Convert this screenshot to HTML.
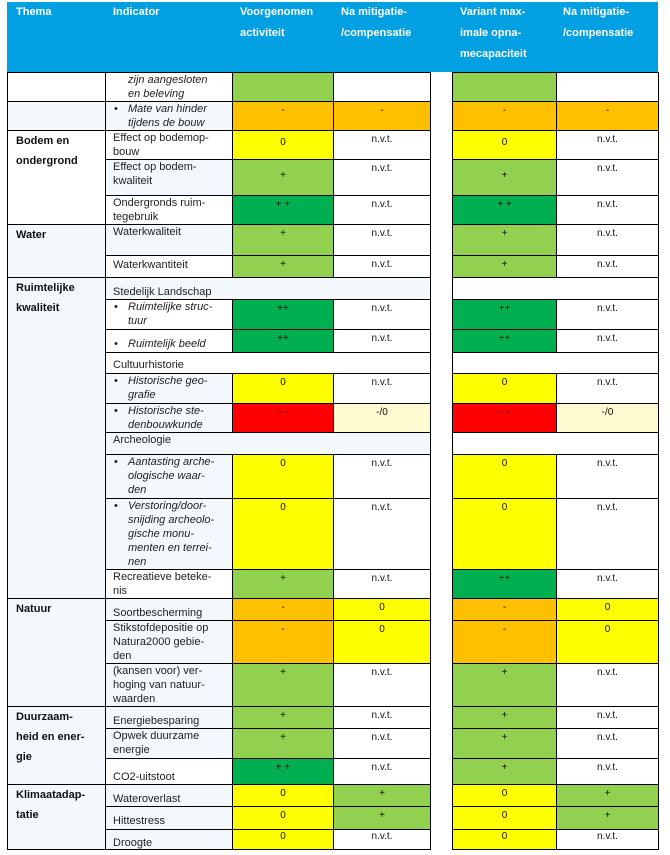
<!DOCTYPE html>
<html><head><meta charset="utf-8"><style>
body{margin:0;width:670px;height:855px;background:#fff;position:relative;overflow:hidden;font-family:"Liberation Sans",Arial,sans-serif}
.h{position:absolute;left:7px;top:2px;width:651px;height:70px;background:#00a0e3}
.ht{position:absolute;color:#fff;font-weight:bold;font-size:11px;line-height:21px;top:2px}
.c{position:absolute;box-sizing:border-box;border:1px solid #000;overflow:hidden;font-size:10px;color:#111}
.v{text-align:center;padding-top:3px}
.i{font-size:11px;line-height:14px;padding-left:7px;color:#222}
.it{font-style:italic;padding-left:22px}
.it:before{content:"•";position:absolute;left:8px;font-style:normal}
.nb:before{content:""}
.t{font-weight:bold;font-size:11px;line-height:20px;padding-left:8px;padding-top:0;color:#111}
.lb{background:#f2f8fc}
.g{background:#92d050}.dg{background:#00b050}.y{background:#ffff00}.o{background:#ffc000}.r{background:#ff0000}.cr{background:#fffad0}
</style></head><body>
<div class="h"></div>
<div class="ht" style="left:16px">Thema</div>
<div class="ht" style="left:113px">Indicator</div>
<div class="ht" style="left:240px">Voorgenomen<br>activiteit</div>
<div class="ht" style="left:341px">Na mitigatie-<br>/compensatie</div>
<div class="ht" style="left:460px">Variant max-<br>imale opna-<br>mecapaciteit</div>
<div class="ht" style="left:563px">Na mitigatie-<br>/compensatie</div>

<!-- Thema column -->
<div class="c t" style="left:7px;top:72px;width:99px;height:30px"></div>
<div class="c t lb" style="left:7px;top:101px;width:99px;height:30px"></div>
<div class="c t" style="left:7px;top:130px;width:99px;height:95px">Bodem en<br>ondergrond</div>
<div class="c t lb" style="left:7px;top:224px;width:99px;height:54px">Water</div>
<div class="c t lb" style="left:7px;top:277px;width:99px;height:322px">Ruimtelijke<br>kwaliteit</div>
<div class="c t lb" style="left:7px;top:598px;width:99px;height:109px">Natuur</div>
<div class="c t lb" style="left:7px;top:706px;width:99px;height:79px">Duurzaam-<br>heid en ener-<br>gie</div>
<div class="c t lb" style="left:7px;top:784px;width:99px;height:66px">Klimaatadap-<br>tatie</div>

<!-- R1 72-101 -->
<div class="c i it nb" style="left:105px;top:72px;width:128px;height:30px">zijn aangesloten<br>en beleving</div>
<div class="c v g" style="left:232px;top:72px;width:102px;height:30px"></div>
<div class="c v" style="left:333px;top:72px;width:98px;height:30px"></div>
<div class="c v g" style="left:452px;top:72px;width:105px;height:30px"></div>
<div class="c v" style="left:556px;top:72px;width:103px;height:30px"></div>
<!-- R2 101-130 -->
<div class="c i it lb" style="left:105px;top:101px;width:128px;height:30px">Mate van hinder<br>tijdens de bouw</div>
<div class="c v o" style="left:232px;top:101px;width:102px;height:30px">-</div>
<div class="c v o" style="left:333px;top:101px;width:98px;height:30px">-</div>
<div class="c v o" style="left:452px;top:101px;width:105px;height:30px">-</div>
<div class="c v o" style="left:556px;top:101px;width:103px;height:30px">-</div>
<!-- R3 130-159 -->
<div class="c i" style="left:105px;top:130px;width:128px;height:30px">Effect op bodemop-<br>bouw</div>
<div class="c v y" style="left:232px;top:130px;width:102px;height:30px;padding-top:6px">0</div>
<div class="c v" style="left:333px;top:130px;width:98px;height:30px">n.v.t.</div>
<div class="c v y" style="left:452px;top:130px;width:105px;height:30px;padding-top:6px">0</div>
<div class="c v" style="left:556px;top:130px;width:103px;height:30px">n.v.t.</div>
<!-- R4 159-195 -->
<div class="c i lb" style="left:105px;top:159px;width:128px;height:37px">Effect op bodem-<br>kwaliteit</div>
<div class="c v g" style="left:232px;top:159px;width:102px;height:37px;padding-top:10px">+</div>
<div class="c v" style="left:333px;top:159px;width:98px;height:37px">n.v.t.</div>
<div class="c v g" style="left:452px;top:159px;width:105px;height:37px;padding-top:10px">+</div>
<div class="c v" style="left:556px;top:159px;width:103px;height:37px">n.v.t.</div>
<!-- R5 195-224 -->
<div class="c i" style="left:105px;top:195px;width:128px;height:30px">Ondergronds ruim-<br>tegebruik</div>
<div class="c v dg" style="left:232px;top:195px;width:102px;height:30px">+ +</div>
<div class="c v" style="left:333px;top:195px;width:98px;height:30px">n.v.t.</div>
<div class="c v dg" style="left:452px;top:195px;width:105px;height:30px">+ +</div>
<div class="c v" style="left:556px;top:195px;width:103px;height:30px">n.v.t.</div>
<!-- R6 224-255 -->
<div class="c i lb" style="left:105px;top:224px;width:128px;height:32px">Waterkwaliteit</div>
<div class="c v g" style="left:232px;top:224px;width:102px;height:32px">+</div>
<div class="c v" style="left:333px;top:224px;width:98px;height:32px">n.v.t.</div>
<div class="c v g" style="left:452px;top:224px;width:105px;height:32px">+</div>
<div class="c v" style="left:556px;top:224px;width:103px;height:32px">n.v.t.</div>
<!-- R7 255-277 -->
<div class="c i" style="left:105px;top:255px;width:128px;height:23px;padding-top:2px">Waterkwantiteit</div>
<div class="c v g" style="left:232px;top:255px;width:102px;height:23px">+</div>
<div class="c v" style="left:333px;top:255px;width:98px;height:23px">n.v.t.</div>
<div class="c v g" style="left:452px;top:255px;width:105px;height:23px">+</div>
<div class="c v" style="left:556px;top:255px;width:103px;height:23px">n.v.t.</div>
<!-- R8 277-299 -->
<div class="c i lb" style="left:105px;top:277px;width:326px;height:23px;padding-top:7px">Stedelijk Landschap</div>
<div class="c" style="left:452px;top:277px;width:207px;height:23px"></div>
<!-- R9 299-329 -->
<div class="c i it" style="left:105px;top:299px;width:128px;height:31px">Ruimtelijke struc-<br>tuur</div>
<div class="c v dg" style="left:232px;top:299px;width:102px;height:31px">++</div>
<div class="c v" style="left:333px;top:299px;width:98px;height:31px">n.v.t.</div>
<div class="c v dg" style="left:452px;top:299px;width:105px;height:31px">++</div>
<div class="c v" style="left:556px;top:299px;width:103px;height:31px">n.v.t.</div>
<!-- R10 329-352 -->
<div class="c i it" style="left:105px;top:329px;width:128px;height:24px;padding-top:7px">Ruimtelijk beeld</div>
<div class="c v dg" style="left:232px;top:329px;width:102px;height:24px">++</div>
<div class="c v" style="left:333px;top:329px;width:98px;height:24px">n.v.t.</div>
<div class="c v dg" style="left:452px;top:329px;width:105px;height:24px">++</div>
<div class="c v" style="left:556px;top:329px;width:103px;height:24px">n.v.t.</div>
<!-- R11 352-373 -->
<div class="c i" style="left:105px;top:352px;width:326px;height:22px;padding-top:5px">Cultuurhistorie</div>
<div class="c" style="left:452px;top:352px;width:207px;height:22px"></div>
<!-- R12 373-403 -->
<div class="c i it lb" style="left:105px;top:373px;width:128px;height:31px">Historische geo-<br>grafie</div>
<div class="c v y" style="left:232px;top:373px;width:102px;height:31px">0</div>
<div class="c v" style="left:333px;top:373px;width:98px;height:31px">n.v.t.</div>
<div class="c v y" style="left:452px;top:373px;width:105px;height:31px">0</div>
<div class="c v" style="left:556px;top:373px;width:103px;height:31px">n.v.t.</div>
<!-- R13 403-432 -->
<div class="c i it lb" style="left:105px;top:403px;width:128px;height:30px">Historische ste-<br>denbouwkunde</div>
<div class="c v r" style="left:232px;top:403px;width:102px;height:30px">- -</div>
<div class="c v cr" style="left:333px;top:403px;width:98px;height:30px">-/0</div>
<div class="c v r" style="left:452px;top:403px;width:105px;height:30px">- -</div>
<div class="c v cr" style="left:556px;top:403px;width:103px;height:30px">-/0</div>
<!-- R14 432-454 -->
<div class="c i lb" style="left:105px;top:432px;width:326px;height:23px">Archeologie</div>
<div class="c" style="left:452px;top:432px;width:207px;height:23px"></div>
<!-- R15 454-498 -->
<div class="c i it lb" style="left:105px;top:454px;width:128px;height:45px">Aantasting arche-<br>ologische waar-<br>den</div>
<div class="c v y" style="left:232px;top:454px;width:102px;height:45px">0</div>
<div class="c v" style="left:333px;top:454px;width:98px;height:45px">n.v.t.</div>
<div class="c v y" style="left:452px;top:454px;width:105px;height:45px">0</div>
<div class="c v" style="left:556px;top:454px;width:103px;height:45px">n.v.t.</div>
<!-- R16 498-569 -->
<div class="c i it lb" style="left:105px;top:498px;width:128px;height:72px">Verstoring/door-<br>snijding archeolo-<br>gische monu-<br>menten en terrei-<br>nen</div>
<div class="c v y" style="left:232px;top:498px;width:102px;height:72px">0</div>
<div class="c v" style="left:333px;top:498px;width:98px;height:72px">n.v.t.</div>
<div class="c v y" style="left:452px;top:498px;width:105px;height:72px">0</div>
<div class="c v" style="left:556px;top:498px;width:103px;height:72px">n.v.t.</div>
<!-- R17 569-598 -->
<div class="c i" style="left:105px;top:569px;width:128px;height:30px">Recreatieve beteke-<br>nis</div>
<div class="c v g" style="left:232px;top:569px;width:102px;height:30px">+</div>
<div class="c v" style="left:333px;top:569px;width:98px;height:30px">n.v.t.</div>
<div class="c v dg" style="left:452px;top:569px;width:105px;height:30px">++</div>
<div class="c v" style="left:556px;top:569px;width:103px;height:30px">n.v.t.</div>
<!-- R18 598-620 -->
<div class="c i lb" style="left:105px;top:598px;width:128px;height:23px;padding-top:7px">Soortbescherming</div>
<div class="c v o" style="left:232px;top:598px;width:102px;height:23px">-</div>
<div class="c v y" style="left:333px;top:598px;width:98px;height:23px">0</div>
<div class="c v o" style="left:452px;top:598px;width:105px;height:23px">-</div>
<div class="c v y" style="left:556px;top:598px;width:103px;height:23px">0</div>
<!-- R19 620-663 -->
<div class="c i lb" style="left:105px;top:620px;width:128px;height:44px">Stikstofdepositie op<br>Natura2000 gebie-<br>den</div>
<div class="c v o" style="left:232px;top:620px;width:102px;height:44px">-</div>
<div class="c v y" style="left:333px;top:620px;width:98px;height:44px">0</div>
<div class="c v o" style="left:452px;top:620px;width:105px;height:44px">-</div>
<div class="c v y" style="left:556px;top:620px;width:103px;height:44px">0</div>
<!-- R20 663-706 -->
<div class="c i lb" style="left:105px;top:663px;width:128px;height:44px">(kansen voor) ver-<br>hoging van natuur-<br>waarden</div>
<div class="c v g" style="left:232px;top:663px;width:102px;height:44px">+</div>
<div class="c v" style="left:333px;top:663px;width:98px;height:44px">n.v.t.</div>
<div class="c v g" style="left:452px;top:663px;width:105px;height:44px">+</div>
<div class="c v" style="left:556px;top:663px;width:103px;height:44px">n.v.t.</div>
<!-- R21 706-728 -->
<div class="c i lb" style="left:105px;top:706px;width:128px;height:23px;padding-top:7px">Energiebesparing</div>
<div class="c v g" style="left:232px;top:706px;width:102px;height:23px">+</div>
<div class="c v" style="left:333px;top:706px;width:98px;height:23px">n.v.t.</div>
<div class="c v g" style="left:452px;top:706px;width:105px;height:23px">+</div>
<div class="c v" style="left:556px;top:706px;width:103px;height:23px">n.v.t.</div>
<!-- R22 728-758 -->
<div class="c i lb" style="left:105px;top:728px;width:128px;height:31px">Opwek duurzame<br>energie</div>
<div class="c v g" style="left:232px;top:728px;width:102px;height:31px">+</div>
<div class="c v" style="left:333px;top:728px;width:98px;height:31px">n.v.t.</div>
<div class="c v g" style="left:452px;top:728px;width:105px;height:31px">+</div>
<div class="c v" style="left:556px;top:728px;width:103px;height:31px">n.v.t.</div>
<!-- R23 758-784 -->
<div class="c i" style="left:105px;top:758px;width:128px;height:27px;padding-top:11px">CO2-uitstoot</div>
<div class="c v dg" style="left:232px;top:758px;width:102px;height:27px">+ +</div>
<div class="c v" style="left:333px;top:758px;width:98px;height:27px">n.v.t.</div>
<div class="c v g" style="left:452px;top:758px;width:105px;height:27px">+</div>
<div class="c v" style="left:556px;top:758px;width:103px;height:27px">n.v.t.</div>
<!-- R24 784-806 -->
<div class="c i lb" style="left:105px;top:784px;width:128px;height:23px;padding-top:7px">Wateroverlast</div>
<div class="c v y" style="left:232px;top:784px;width:102px;height:23px">0</div>
<div class="c v g" style="left:333px;top:784px;width:98px;height:23px">+</div>
<div class="c v y" style="left:452px;top:784px;width:105px;height:23px">0</div>
<div class="c v g" style="left:556px;top:784px;width:103px;height:23px">+</div>
<!-- R25 806-829 -->
<div class="c i lb" style="left:105px;top:806px;width:128px;height:24px;padding-top:7px">Hittestress</div>
<div class="c v y" style="left:232px;top:806px;width:102px;height:24px">0</div>
<div class="c v g" style="left:333px;top:806px;width:98px;height:24px">+</div>
<div class="c v y" style="left:452px;top:806px;width:105px;height:24px">0</div>
<div class="c v g" style="left:556px;top:806px;width:103px;height:24px">+</div>
<!-- R26 829-849 -->
<div class="c i lb" style="left:105px;top:829px;width:128px;height:21px;padding-top:6px">Droogte</div>
<div class="c v y" style="left:232px;top:829px;width:102px;height:21px;padding-top:1px">0</div>
<div class="c v" style="left:333px;top:829px;width:98px;height:21px;padding-top:1px">n.v.t.</div>
<div class="c v y" style="left:452px;top:829px;width:105px;height:21px;padding-top:1px">0</div>
<div class="c v" style="left:556px;top:829px;width:103px;height:21px;padding-top:1px">n.v.t.</div>
</body></html>
